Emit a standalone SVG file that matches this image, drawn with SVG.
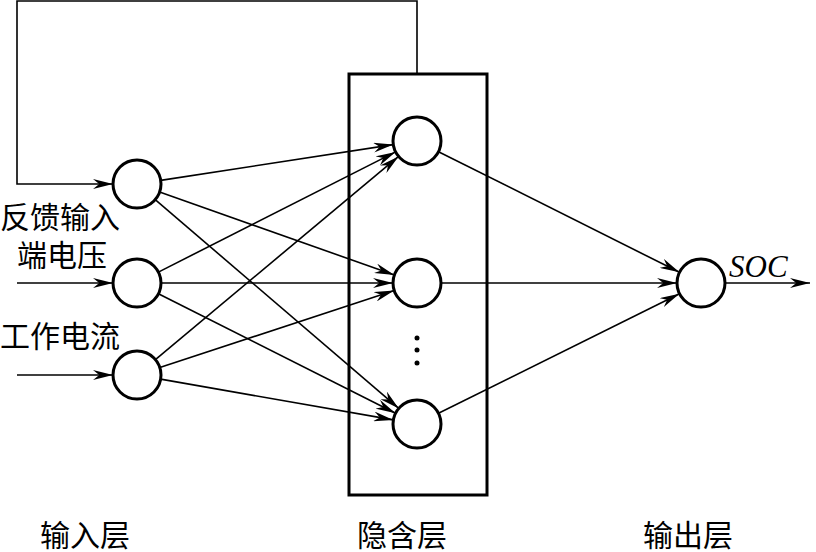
<svg xmlns="http://www.w3.org/2000/svg" width="816" height="552" viewBox="0 0 816 552">
<style>
.c{fill:#fff;stroke:#000;stroke-width:3}
.l{stroke:#000;stroke-width:1.6;fill:none}
.a{marker-end:url(#ah)}
.t{font-family:"Liberation Serif","Noto Sans CJK SC",serif;font-size:30px;fill:#000}
</style>
<defs>
<marker id="ah" markerUnits="userSpaceOnUse" markerWidth="20" markerHeight="10" refX="16" refY="4" orient="auto" viewBox="0 0 16 8">
<path d="M0,0 L16,4 L0,8 L5,4 z" fill="#000"/>
</marker>
</defs>
<rect width="816" height="552" fill="#fff"/>
<g id="hidden-box"><rect x="349" y="74" width="138" height="421" fill="none" stroke="#000" stroke-width="3"/></g>
<g id="connectors">
<polyline class="l a" points="417,74 417,1 17,1 17,184 113,184"/>
<line class="l a" x1="17" y1="283" x2="113" y2="283"/>
<line class="l a" x1="17" y1="375" x2="113" y2="375"/>
<line class="l a" x1="160.7" y1="180.4" x2="393.3" y2="144.6"/>
<line class="l a" x1="159.6" y1="192" x2="394.4" y2="275"/>
<line class="l a" x1="155.2" y1="199.6" x2="398.8" y2="408.4"/>
<line class="l a" x1="158.4" y1="272.1" x2="395.6" y2="151.9"/>
<line class="l a" x1="161" y1="283" x2="393" y2="283"/>
<line class="l a" x1="158.4" y1="293.8" x2="395.6" y2="413.2"/>
<line class="l a" x1="155.4" y1="359.6" x2="398.6" y2="156.4"/>
<line class="l a" x1="159.8" y1="367.5" x2="394.2" y2="290.5"/>
<line class="l a" x1="160.6" y1="379.1" x2="393.4" y2="419.9"/>
<line class="l a" x1="438.5" y1="151.7" x2="679.5" y2="272.3"/>
<line class="l a" x1="441" y1="283" x2="677" y2="283"/>
<line class="l a" x1="438.5" y1="413.3" x2="679.5" y2="293.7"/>
<line class="l a" x1="725" y1="283" x2="810" y2="283"/>
</g>
<g id="input1"><circle class="c" cx="137" cy="184" r="24"/></g>
<g id="input2"><circle class="c" cx="137" cy="283" r="24"/></g>
<g id="input3"><circle class="c" cx="137" cy="375" r="24"/></g>
<g id="hidden1"><circle class="c" cx="417" cy="141" r="24"/></g>
<g id="hidden2"><circle class="c" cx="417" cy="283" r="24"/></g>
<g id="hidden-dots"><circle cx="417" cy="338" r="2.5"/><circle cx="417" cy="350" r="2.5"/><circle cx="417" cy="363" r="2.5"/></g>
<g id="hidden3"><circle class="c" cx="417" cy="424" r="24"/></g>
<g id="output"><circle class="c" cx="701" cy="283" r="24"/></g>
<g id="labels">
<text class="t" x="0" y="228">反馈输入</text>
<text class="t" x="17" y="266">端电压</text>
<text class="t" x="0" y="347">工作电流</text>
<text x="729" y="277" font-family="'Liberation Serif',serif" font-style="italic" font-size="31">SOC</text>
<text class="t" x="40" y="546">输入层</text>
<text class="t" x="357" y="546">隐含层</text>
<text class="t" x="643" y="546">输出层</text>
</g>
</svg>
